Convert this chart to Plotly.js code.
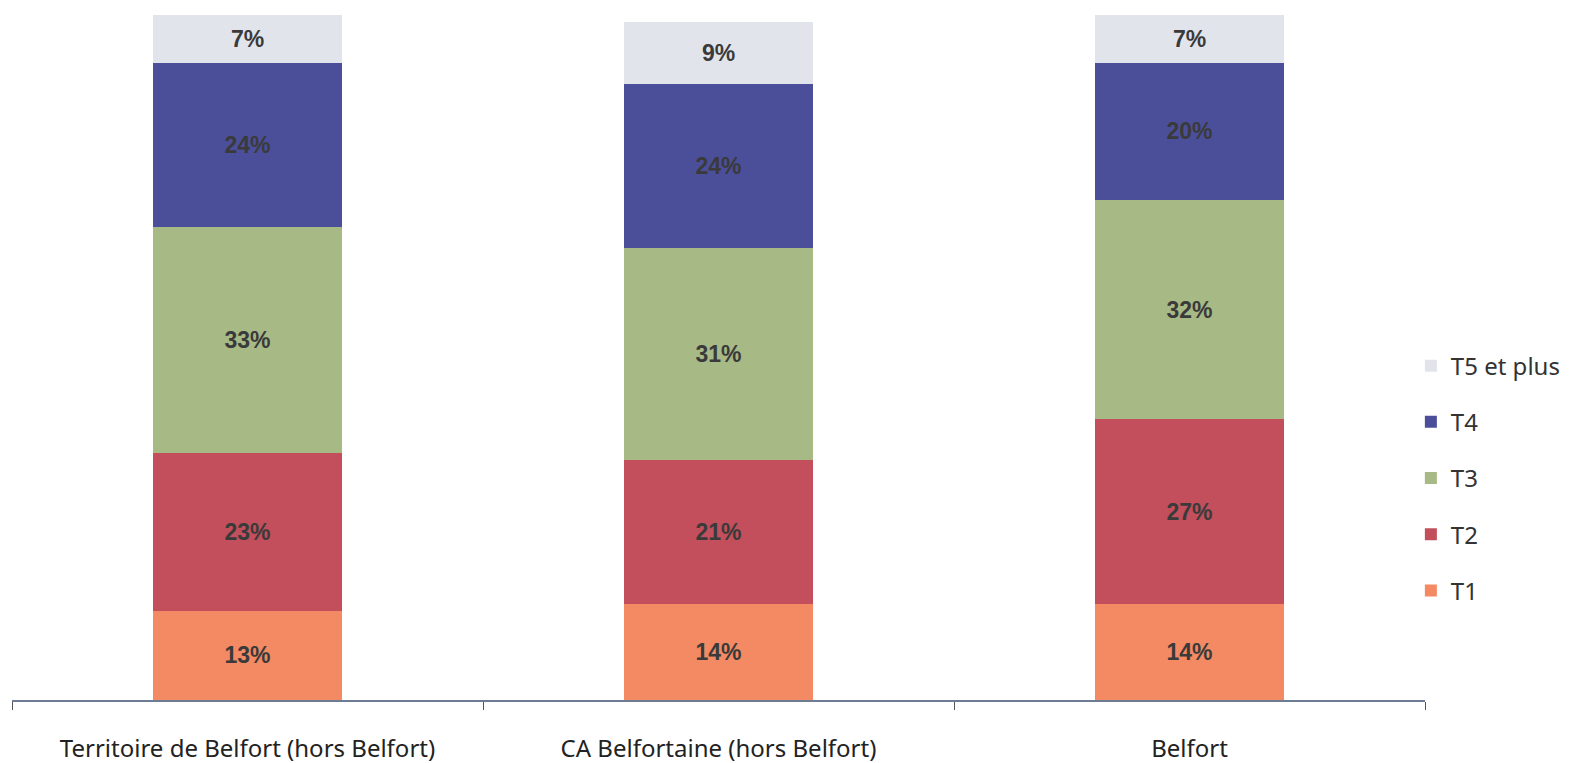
<!DOCTYPE html>
<html><head><meta charset="utf-8">
<script src="https://cdn.plot.ly/plotly-3.0.1.min.js"></script>
<style>html,body{margin:0;padding:0;background:#fff;}#chart{width:1580px;height:763px;}</style>
</head><body><div id="chart"></div>
<script>
const categories = ["Territoire de Belfort (hors Belfort)", "CA Belfortaine (hors Belfort)", "Belfort"];
const seriesNames = ["T1", "T2", "T3", "T4", "T5 et plus"];
const t1 = [13, 14, 14];
const t2 = [23, 21, 27];
const t3 = [33, 31, 32];
const t4 = [24, 24, 20];
const t5 = [7, 9, 7];
const colors = ["#f48a63", "#c24f5b", "#a7b985", "#4b4f9a", "#e2e4ec"];
const values = [t1, t2, t3, t4, t5];

const traces = values.map((v, i) => ({
  type: "bar",
  name: seriesNames[i],
  x: categories,
  y: v,
  legendgroup: "g" + i,
  legendrank: 10 - i,
  marker: {color: colors[i], line: {width: 0}},
  text: v.map(d => d + "%"),
  texttemplate: "<b>%{text}</b>",
  textposition: "inside",
  insidetextanchor: "middle",
  textangle: 0,
  textfont: {family: "Liberation Sans, Arial, sans-serif", size: 23, color: "#3a3a3a"},
  hoverinfo: "skip"
}));

const layout = {
  width: 1580, height: 763,
  margin: {l: 12, r: 155, t: 15, b: 63},
  barmode: "stack",
  bargap: 0.6,
  paper_bgcolor: "#ffffff",
  plot_bgcolor: "#ffffff",
  showlegend: true,
  legend: {
    x: 0.99, xanchor: "left", y: 0.324, yanchor: "middle",
    traceorder: "grouped",
    tracegroupgap: 22,
    font: {family: "Noto Sans, sans-serif", size: 24, color: "#333"},
    itemwidth: 30
  },
  xaxis: {
    type: "category",
    showline: true, linecolor: "#6d7c93", linewidth: 1.5,
    ticks: "outside", tickson: "boundaries", ticklen: 8, tickcolor: "#555",
    ticklabelstandoff: 27,
    tickfont: {family: "Noto Sans, sans-serif", size: 24, color: "#222"},
    showgrid: false, zeroline: false
  },
  yaxis: {
    range: [0, 100], visible: false, showgrid: false, zeroline: false
  },
  uniformtext: {mode: "show", minsize: 10}
};
Plotly.newPlot("chart", traces, layout, {displayModeBar: false, staticPlot: true});
</script></body></html>
